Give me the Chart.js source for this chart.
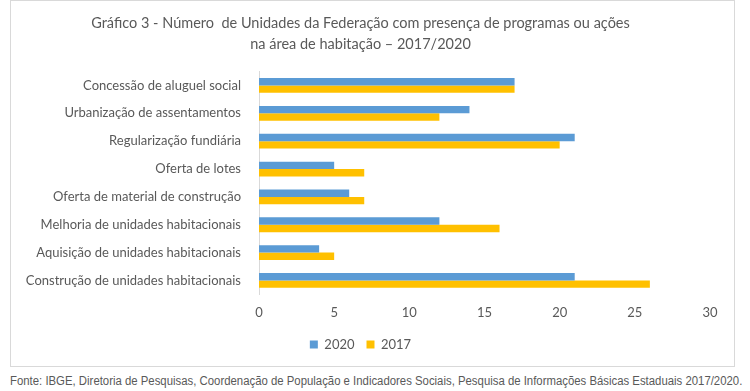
<!DOCTYPE html>
<html>
<head>
<meta charset="utf-8">
<script src="https://cdn.jsdelivr.net/npm/chart.js@4.4.0/dist/chart.umd.min.js"></script>
<style>
  body { margin: 0; background: #fff; width: 750px; height: 391px; overflow: hidden; position: relative; }
  #frame { position: absolute; left: 10px; top: 0; width: 723px; height: 365px; border: 1px solid #d9d9d9; }
  #fonte { position: absolute; left: 10px; top: 374px; font-family: "Liberation Sans Narrow", "Liberation Sans"; font-size: 12.5px; color: #595959; white-space: nowrap; transform-origin: left top; }
</style>
</head>
<body>
<div id="frame"><canvas id="grafico" width="723" height="365"></canvas></div>
<div id="fonte">Fonte: IBGE, Diretoria de Pesquisas, Coordenação de População e Indicadores Sociais, Pesquisa de Informações Básicas Estaduais 2017/2020.</div>
<script>
// Dados do gráfico
const categorias = [
  'Concessão de aluguel social',
  'Urbanização de assentamentos',
  'Regularização fundiária',
  'Oferta de lotes',
  'Oferta de material de construção',
  'Melhoria de unidades habitacionais',
  'Aquisição de unidades habitacionais',
  'Construção de unidades habitacionais'
];
const valores2020 = [17, 14, 21, 5, 6, 12, 4, 21];
const valores2017 = [17, 12, 20, 7, 7, 16, 5, 26];
const tituloLinhas = [
  'Gráfico 3 - Número  de Unidades da Federação com presença de programas ou ações',
  'na área de habitação – 2017/2020'
];

const cinza = '#595959';

// Ajustar a fonte (texto condensado) à largura disponível
const fonte = document.getElementById('fonte');
const escala = 732 / fonte.scrollWidth;
if (escala < 1) fonte.style.transform = `scaleX(${escala})`;

new Chart(document.getElementById('grafico'), {
  type: 'bar',
  data: {
    labels: categorias,
    datasets: [
      { label: '2020', data: valores2020, backgroundColor: '#5B9BD5', categoryPercentage: 0.53, barPercentage: 1 },
      { label: '2017', data: valores2017, backgroundColor: '#FFC000', categoryPercentage: 0.53, barPercentage: 1 }
    ]
  },
  options: {
    indexAxis: 'y',
    responsive: false,
    animation: false,
    devicePixelRatio: 1,
    layout: { padding: { left: 0, right: 24, top: 0, bottom: 5 } },
    plugins: {
      title: {
        display: true,
        text: tituloLinhas,
        color: cinza,
        font: { family: 'Lato', size: 14.5, weight: 'normal', lineHeight: 1.5 },
        padding: { top: 11, bottom: 16 }
      },
      legend: {
        position: 'bottom',
        labels: {
          color: cinza,
          font: { family: 'Lato', size: 13 },
          boxWidth: 8,
          boxHeight: 8,
          padding: 12
        }
      },
      tooltip: { enabled: false }
    },
    scales: {
      x: {
        min: 0,
        max: 30,
        ticks: { stepSize: 5, color: cinza, font: { family: 'Lato', size: 13 }, padding: 3, maxRotation: 0 },
        grid: { display: false },
        border: { display: false },
        afterFit: (scale) => { scale.height += 2; }
      },
      y: {
        ticks: { color: cinza, font: { family: 'Lato', size: 13 }, padding: 10, autoSkip: false },
        grid: { display: false },
        border: { display: true, color: '#d9d9d9' },
        afterFit: (scale) => { scale.width = 248; }
      }
    }
  }
});
</script>
</body>
</html>
